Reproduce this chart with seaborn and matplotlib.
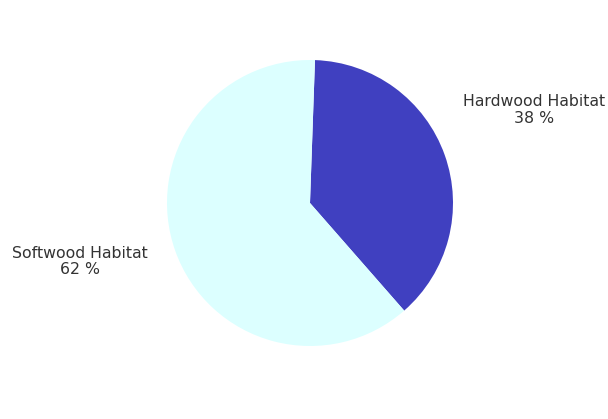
import matplotlib
matplotlib.use("Agg")
import matplotlib.pyplot as plt
import seaborn as sns

categories = ["Hardwood Habitat", "Softwood Habitat"]
values = [38, 62]
colors = ["#4040c0", "#dcffff"]

sns.set_theme(style="white")
plt.rcParams['font.family'] = ['DejaVu Sans']

fig = plt.figure(figsize=(6.08, 4.19), dpi=100)
ax = fig.add_axes([0, 0, 1, 1])
ax.pie(values, colors=colors, startangle=88, counterclock=False, radius=1.0,
       wedgeprops=dict(linewidth=0))
ax.set_aspect('equal')
ax.set_xlim(-310/143, (608-310)/143)
ax.set_ylim(-(419-203)/143, 203/143)
ax.axis('off')

label_pos = [(1.570, 0.650), (-1.608, -0.409)]
for cat, v, (x, y) in zip(categories, values, label_pos):
    ax.text(x, y, f"{cat}\n{v} %", ha='center', va='center', fontsize=11.3,
            color='#333333', linespacing=1.15)

fig.savefig("out.png", dpi=100)
